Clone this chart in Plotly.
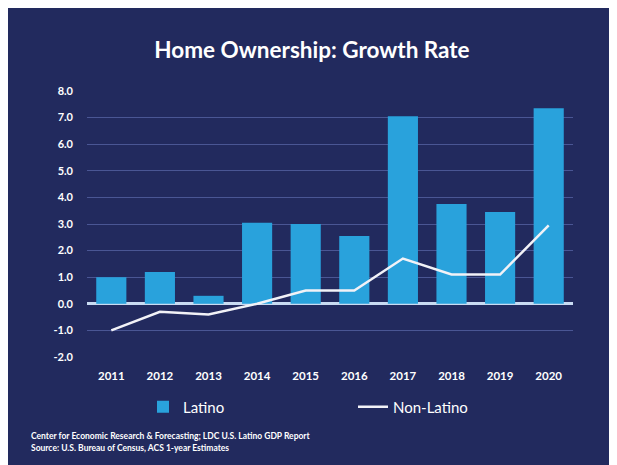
import plotly.graph_objects as go

years = ["2011", "2012", "2013", "2014", "2015", "2016", "2017", "2018", "2019", "2020"]
latino = [1.0, 1.2, 0.3, 3.05, 3.0, 2.55, 7.05, 3.75, 3.45, 7.35]
non_latino = [-1.0, -0.3, -0.4, 0.0, 0.5, 0.5, 1.7, 1.1, 1.1, 2.95]
y_ticks = [-2, -1, 0, 1, 2, 3, 4, 5, 6, 7, 8]
y_tick_text = ["-2.0", "-1.0", "0.0", "1.0", "2.0", "3.0", "4.0", "5.0", "6.0", "7.0", "8.0"]

W, H = 617, 465
OFF = 8  # page body margin
L, R, T, B = 79, 52, 83, 116
PW, PH = W - L - R, H - T - B

BG = "#222a5e"
BAR = "#29a2dc"
GRID = "#4a5694"
FONT = "Lato"

fig = go.Figure()
fig.add_trace(go.Bar(x=years, y=latino, name="Latino", marker_color=BAR,
                     marker_line_width=0))
fig.add_trace(go.Scatter(x=years, y=non_latino, name="Non-Latino", mode="lines",
                         line=dict(color="#f2f2f7", width=2.5)))

def px_x(p):
    # page pixel -> paper x
    return (p - OFF - L) / PW

def px_y(p):
    return (H - B - (p - OFF)) / PH

fig.update_layout(
    width=W, height=H,
    margin=dict(l=L, r=R, t=T, b=B),
    paper_bgcolor=BG, plot_bgcolor=BG,
    font=dict(family=FONT, color="white"),
    title=dict(text="<b>Home Ownership: Growth Rate</b>", xref="container",
               x=(312 - OFF) / W, xanchor="center",
               y=1 - (50 - OFF) / H, yanchor="middle", font=dict(size=22.5, color="white", family=FONT)),
    bargap=0.38,
    showlegend=True,
    legend=dict(orientation="h", x=px_x(143), xanchor="left", y=px_y(407), yanchor="middle",
                font=dict(size=15, color="white", family=FONT), entrywidth=165,
                bgcolor="rgba(0,0,0,0)"),
    annotations=[
        dict(text="<b>Center for Economic Research &amp; Forecasting; LDC U.S. Latino GDP Report</b>",
             xref="paper", yref="paper", x=px_x(29), y=px_y(436), xanchor="left", yanchor="middle",
             showarrow=False, font=dict(size=8.5, color="white", family=FONT)),
        dict(text="<b>Source: U.S. Bureau of Census, ACS 1-year Estimates</b>",
             xref="paper", yref="paper", x=px_x(29), y=px_y(448), xanchor="left", yanchor="middle",
             showarrow=False, font=dict(size=8.5, color="white", family=FONT)),
    ],
)

fig.update_xaxes(showgrid=False, showline=False, zeroline=False, ticks="",
                 tickfont=dict(size=11.5, color="white", family=FONT),
                 ticklabelstandoff=10, tickprefix="<b>", ticksuffix="</b>")
fig.update_yaxes(range=[-2, 8], tickvals=y_ticks, ticktext=["<b>" + t + "</b>" for t in y_tick_text],
                 showgrid=True, gridcolor=GRID, gridwidth=1.2,
                 zeroline=True, zerolinecolor="#c9dbf2", zerolinewidth=3,
                 showline=False, ticks="", ticklabelstandoff=13,
                 tickfont=dict(size=11, color="white", family=FONT))

fig.write_html("out.html")
